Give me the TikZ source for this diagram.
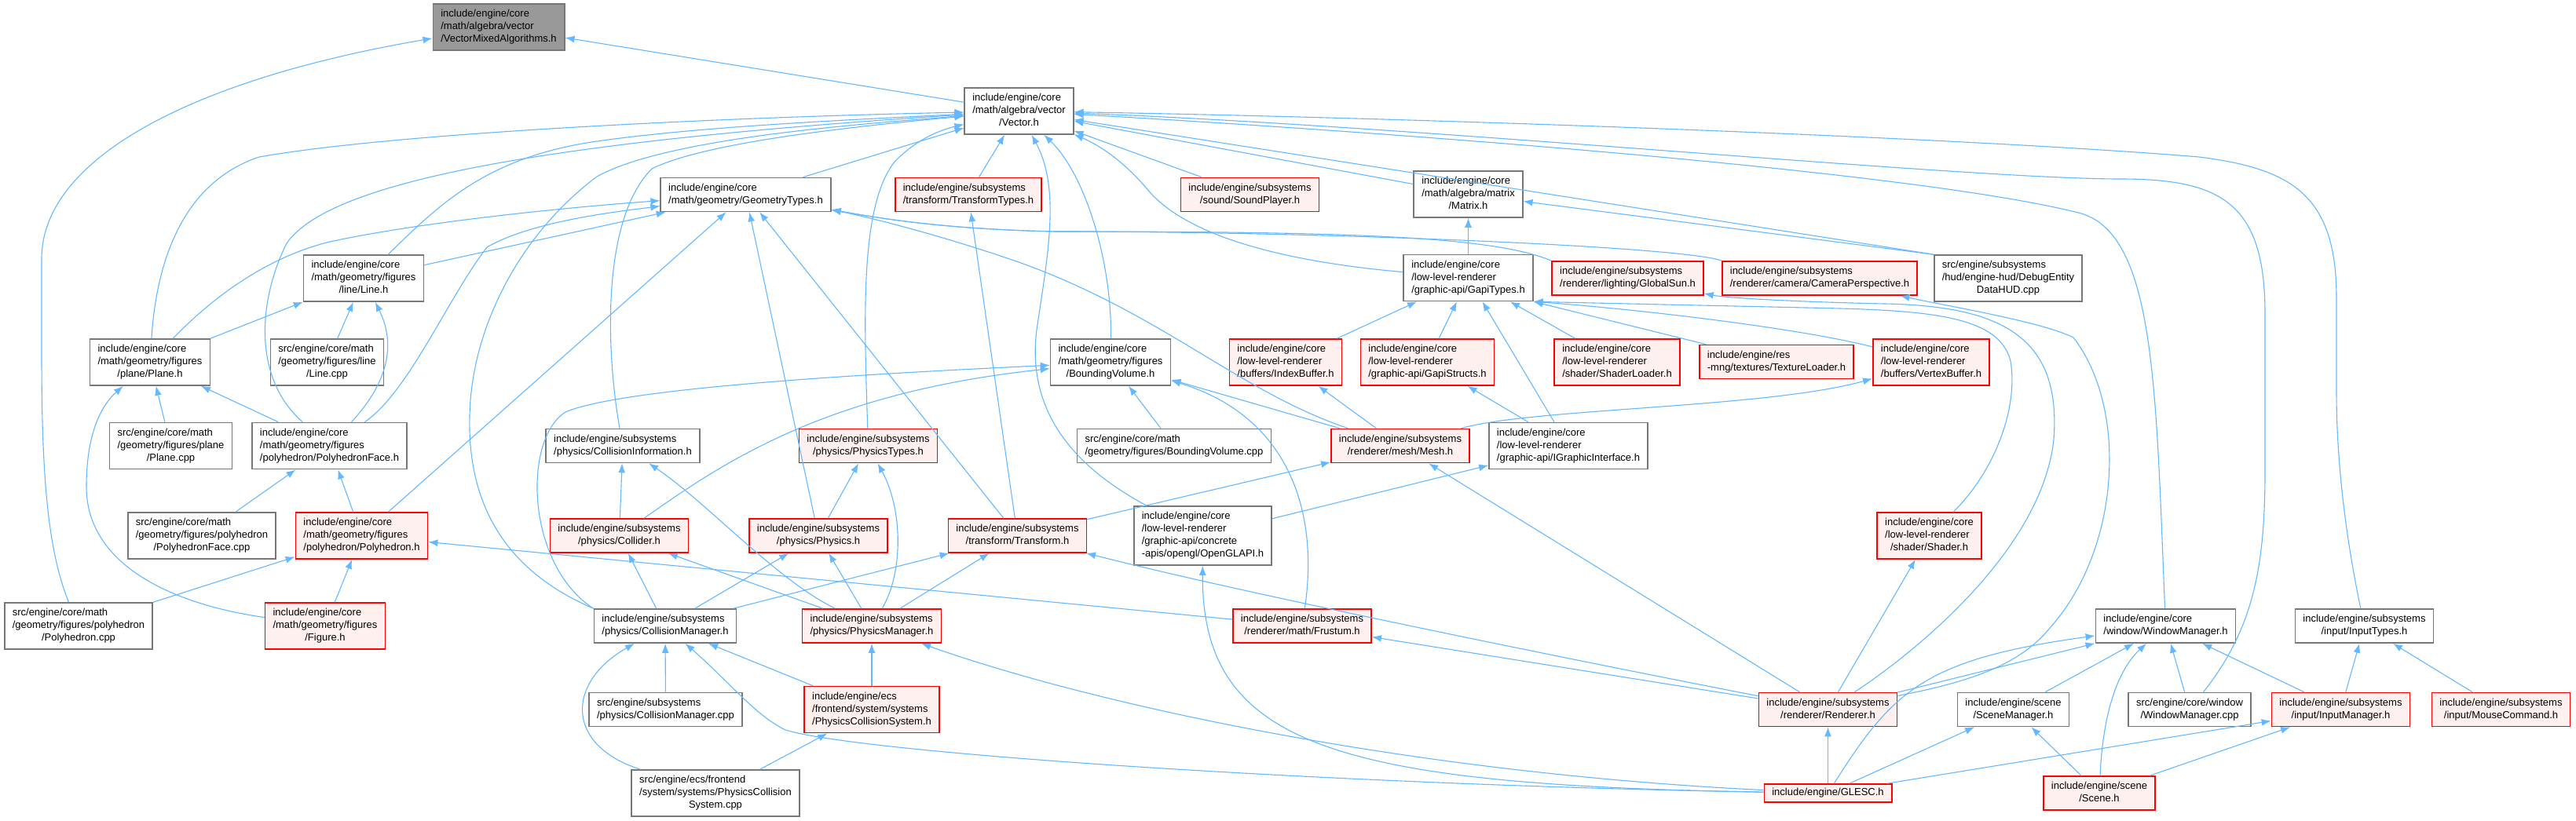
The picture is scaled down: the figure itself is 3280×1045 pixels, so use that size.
\documentclass[tikz,border=0pt]{standalone}
\usepackage{fontspec}
\usepackage{tikz}
\usetikzlibrary{arrows.meta}
\newfontfamily\docfont{Liberation Sans}
\definecolor{edgeblue}{HTML}{63B8FF}
\definecolor{boxgray}{HTML}{777777}
\definecolor{rootgray}{HTML}{999999}
\newcommand{\flab}[2]{\begin{tabular}{@{}l@{}}#1\\\multicolumn{1}{@{}c@{}}{#2}\end{tabular}}

\begin{document}
\begin{tikzpicture} [
    x=1pt, y=1pt,
    file/.style={rectangle, draw=boxgray, fill=white, line width=1.6pt, inner xsep=10pt, inner ysep=5.5pt, font=\docfont\fontsize{13}{16}\selectfont},
    trunc/.style={file, draw=red, fill=red!6},
    root/.style={file, draw=boxgray, fill=rootgray},
    incl/.style={draw=edgeblue, line width=1.1pt, -{Latex[length=12pt, width=9pt]}}
]
    \path [use as bounding box, fill=white] (0,0) rectangle (3280,-1045);

    % Nodes
    \node[root] (vector_mixed) at (635,-34.5) {\flab{include/engine/core\\/math/algebra/vector}{/VectorMixedAlgorithms.h}};
    \node[file] (vector) at (1297.5,-141.5) {\flab{include/engine/core\\/math/algebra/vector}{/Vector.h}};

    \node[file] (geometry_types) at (949.5,-248) {\flab{include/engine/core}{/math/geometry/GeometryTypes.h}};
    \node[trunc] (transform_types) at (1233,-248) {\flab{include/engine/subsystems}{/transform/TransformTypes.h}};
    \node[trunc] (sound_player) at (1591.5,-248) {\flab{include/engine/subsystems}{/sound/SoundPlayer.h}};
    \node[file] (matrix) at (1869.5,-247.5) {\flab{include/engine/core\\/math/algebra/matrix}{/Matrix.h}};

    \node[file] (line_h) at (463,-354.5) {\flab{include/engine/core\\/math/geometry/figures}{/line/Line.h}};
    \node[file] (gapi_types) at (1869.5,-354) {\flab{include/engine/core\\/low-level-renderer}{/graphic-api/GapiTypes.h}};
    \node[trunc] (global_sun) at (2072.5,-354.5) {\flab{include/engine/subsystems}{/renderer/lighting/GlobalSun.h}};
    \node[trunc] (camera) at (2317,-354.5) {\flab{include/engine/subsystems}{/renderer/camera/CameraPerspective.h}};
    \node[file] (debug_hud) at (2557,-354.5) {\flab{src/engine/subsystems\\/hud/engine-hud/DebugEntity}{DataHUD.cpp}};

    \node[file] (plane_h) at (191,-461.5) {\flab{include/engine/core\\/math/geometry/figures}{/plane/Plane.h}};
    \node[file] (line_cpp) at (416.5,-461.5) {\flab{src/engine/core/math\\/geometry/figures/line}{/Line.cpp}};
    \node[file] (bounding_volume) at (1414,-461.5) {\flab{include/engine/core\\/math/geometry/figures}{/BoundingVolume.h}};
    \node[trunc] (index_buffer) at (1637,-461.5) {\flab{include/engine/core\\/low-level-renderer}{/buffers/IndexBuffer.h}};
    \node[trunc] (gapi_structs) at (1817.5,-461.5) {\flab{include/engine/core\\/low-level-renderer}{/graphic-api/GapiStructs.h}};
    \node[trunc] (shader_loader) at (2059,-461.5) {\flab{include/engine/core\\/low-level-renderer}{/shader/ShaderLoader.h}};
    \node[trunc] (texture_loader) at (2262,-461) {\flab{include/engine/res}{-mng/textures/TextureLoader.h}};
    \node[trunc] (vertex_buffer) at (2459,-461.5) {\flab{include/engine/core\\/low-level-renderer}{/buffers/VertexBuffer.h}};

    \node[file] (plane_cpp) at (217.5,-568) {\flab{src/engine/core/math\\/geometry/figures/plane}{/Plane.cpp}};
    \node[file] (polyhedron_face) at (419.5,-568) {\flab{include/engine/core\\/math/geometry/figures}{/polyhedron/PolyhedronFace.h}};
    \node[file] (collision_info) at (793,-568) {\flab{include/engine/subsystems}{/physics/CollisionInformation.h}};
    \node[trunc] (physics_types) at (1105.5,-568) {\flab{include/engine/subsystems}{/physics/PhysicsTypes.h}};
    \node[file] (bounding_volume_cpp) at (1495,-568) {\flab{src/engine/core/math}{/geometry/figures/BoundingVolume.cpp}};
    \node[trunc] (mesh) at (1783,-568) {\flab{include/engine/subsystems}{/renderer/mesh/Mesh.h}};
    \node[file] (graphic_interface) at (1997,-568) {\flab{include/engine/core\\/low-level-renderer}{/graphic-api/IGraphicInterface.h}};

    \node[file] (polyhedron_face_cpp) at (257,-682.5) {\flab{src/engine/core/math\\/geometry/figures/polyhedron}{/PolyhedronFace.cpp}};
    \node[trunc] (polyhedron) at (460.5,-682.5) {\flab{include/engine/core\\/math/geometry/figures}{/polyhedron/Polyhedron.h}};
    \node[trunc] (collider) at (788.5,-682.5) {\flab{include/engine/subsystems}{/physics/Collider.h}};
    \node[trunc] (physics) at (1042,-682.5) {\flab{include/engine/subsystems}{/physics/Physics.h}};
    \node[trunc] (transform) at (1295.5,-682.5) {\flab{include/engine/subsystems}{/transform/Transform.h}};
    \node[file] (opengl_api) at (1531.5,-682.5) {\flab{include/engine/core\\/low-level-renderer\\/graphic-api/concrete}{-apis/opengl/OpenGLAPI.h}};
    \node[trunc] (shader) at (2456.5,-682.5) {\flab{include/engine/core\\/low-level-renderer}{/shader/Shader.h}};

    \node[file] (polyhedron_cpp) at (100,-797.5) {\flab{src/engine/core/math\\/geometry/figures/polyhedron}{/Polyhedron.cpp}};
    \node[trunc] (figure) at (414,-797.5) {\flab{include/engine/core\\/math/geometry/figures}{/Figure.h}};
    \node[file] (collision_manager) at (847,-797.5) {\flab{include/engine/subsystems}{/physics/CollisionManager.h}};
    \node[trunc] (physics_manager) at (1110,-797.5) {\flab{include/engine/subsystems}{/physics/PhysicsManager.h}};
    \node[trunc] (frustum) at (1658,-797.5) {\flab{include/engine/subsystems}{/renderer/math/Frustum.h}};
    \node[file] (window_manager) at (2757.5,-797.5) {\flab{include/engine/core}{/window/WindowManager.h}};
    \node[file] (input_types) at (3010.5,-797.5) {\flab{include/engine/subsystems}{/input/InputTypes.h}};

    \node[file] (collision_manager_cpp) at (847.5,-904) {\flab{src/engine/subsystems}{/physics/CollisionManager.cpp}};
    \node[trunc] (physics_collision_system) at (1110,-904) {\flab{include/engine/ecs\\/frontend/system/systems}{/PhysicsCollisionSystem.h}};
    \node[trunc] (renderer) at (2327.5,-904) {\flab{include/engine/subsystems}{/renderer/Renderer.h}};
    \node[file] (scene_manager) at (2563.5,-904) {\flab{include/engine/scene}{/SceneManager.h}};
    \node[file] (window_manager_cpp) at (2788,-904) {\flab{src/engine/core/window}{/WindowManager.cpp}};
    \node[trunc] (input_manager) at (2980.5,-904) {\flab{include/engine/subsystems}{/input/InputManager.h}};
    \node[trunc] (mouse_command) at (3184.5,-904) {\flab{include/engine/subsystems}{/input/MouseCommand.h}};

    \node[file] (physics_collision_cpp) at (911,-1010.5) {\flab{src/engine/ecs/frontend\\/system/systems/PhysicsCollision}{System.cpp}};
    \node[trunc] (glesc) at (2327.5,-1010.5) {include/engine/GLESC.h};
    \node[trunc] (scene) at (2673,-1010.5) {\flab{include/engine/scene}{/Scene.h}};

    % Include edges
    \path [incl] (vector) -- (vector_mixed);
    \path [incl] (polyhedron_cpp) .. controls (60,-700) and (53,-600) .. (53,-450) -- (53,-330) .. controls (53,-200) and (250,-100) .. (vector_mixed);

    \path [incl] (geometry_types) -- (vector);
    \path [incl] (transform_types) -- (vector);
    \path [incl] (sound_player) -- (vector);
    \path [incl] (matrix) -- (vector);
    \path [incl] (debug_hud.north west) -- (vector);
    \path [incl] (gapi_types) .. controls (1600,-330) and (1500,-290) .. (1460,-240) .. controls (1430,-205) and (1400,-185) .. (vector);
    \path [incl] (line_h) .. controls (560,-260) and (620,-200) .. (760,-180) .. controls (900,-160) and (1100,-152) .. (vector);
    \path [incl] (plane_h) .. controls (200,-320) and (240,-230) .. (330,-200) .. controls (500,-170) and (900,-150) .. (vector);
    \path [incl] (polyhedron_face) .. controls (320,-480) and (330,-380) .. (365,-310) .. controls (420,-230) and (700,-180) .. (vector);
    \path [incl] (collision_info) .. controls (772,-450) and (765,-280) .. (830,-215) .. controls (900,-180) and (1100,-160) .. (vector);
    \path [incl] (physics_types) .. controls (1100,-400) and (1095,-260) .. (1140,-205) .. controls (1170,-175) and (1200,-165) .. (vector);
    \path [incl] (bounding_volume) .. controls (1416,-330) and (1380,-220) .. (vector);
    \path [incl] (opengl_api) .. controls (1340,-580) and (1310,-500) .. (1320,-420) .. controls (1335,-320) and (1350,-240) .. (vector);
    \path [incl] (collision_manager.north west) .. controls (650,-730) and (595,-650) .. (598,-530) .. controls (600,-420) and (660,-300) .. (760,-225) .. controls (850,-175) and (1100,-158) .. (vector);
    \path [incl] (window_manager) .. controls (2745,-500) and (2745,-300) .. (2650,-272) .. controls (2450,-220) and (1800,-170) .. (vector);
    \path [incl] (window_manager_cpp) .. controls (2870,-800) and (2884,-720) .. (2884,-600) -- (2884,-400) .. controls (2884,-260) and (2830,-228) .. (2700,-228) .. controls (2500,-228) and (1800,-160) .. (vector);
    \path [incl] (input_types) .. controls (2990,-700) and (2975,-600) .. (2975,-500) -- (2975,-380) .. controls (2975,-250) and (2920,-215) .. (2800,-200) .. controls (2500,-175) and (1800,-150) .. (vector);

    \path [incl] (gapi_types) -- (matrix);
    \path [incl] (debug_hud.north west) -- (matrix);

    \path [incl] (line_h) -- (geometry_types);
    \path [incl] (plane_h) .. controls (260,-390) and (330,-330) .. (420,-308) .. controls (550,-280) and (750,-262) .. (geometry_types);
    \path [incl] (polyhedron_face) .. controls (520,-500) and (570,-380) .. (620,-315) .. controls (680,-280) and (800,-268) .. (geometry_types);
    \path [incl] (polyhedron) -- (geometry_types);
    \path [incl] (physics) -- (geometry_types);
    \path [incl] (transform) -- (geometry_types);
    \path [incl] (mesh) .. controls (1580,-500) and (1480,-400) .. (1300,-335) .. controls (1200,-300) and (1100,-275) .. (geometry_types);
    \path [incl] (global_sun.north west) .. controls (1900,-300) and (1700,-295) .. (1345,-295) .. controls (1200,-292) and (1120,-278) .. (geometry_types);
    \path [incl] (camera.north west) .. controls (2150,-315) and (1700,-295) .. (1345,-295) .. controls (1200,-292) and (1120,-278) .. (geometry_types);

    \path [incl] (transform) -- (transform_types);

    \path [incl] (plane_h) -- (line_h);
    \path [incl] (line_cpp) -- (line_h);
    \path [incl] (polyhedron_face) .. controls (510,-470) and (495,-420) .. (line_h);

    \path [incl] (plane_cpp) -- (plane_h);
    \path [incl] (polyhedron_face) -- (plane_h);
    \path [incl] (figure) .. controls (220,-770) and (110,-720) .. (110,-620) .. controls (110,-560) and (125,-520) .. (plane_h);

    \path [incl] (polyhedron_face_cpp) -- (polyhedron_face);
    \path [incl] (polyhedron) -- (polyhedron_face);

    \path [incl] (polyhedron_cpp) -- (polyhedron);
    \path [incl] (figure) -- (polyhedron);
    \path [incl] (frustum) -- (polyhedron);

    \path [incl] (collider) -- (collision_info);
    \path [incl] (physics_manager) .. controls (990,-740) and (900,-640) .. (collision_info);

    \path [incl] (physics) -- (physics_types);
    \path [incl] (physics_manager) .. controls (1150,-730) and (1150,-650) .. (physics_types);

    \path [incl] (collision_manager) -- (collider);
    \path [incl] (physics_manager) -- (collider);
    \path [incl] (collision_manager) -- (physics);
    \path [incl] (physics_manager) -- (physics);

    \path [incl] (collision_manager) -- (transform);
    \path [incl] (physics_manager) -- (transform);
    \path [incl] (renderer) .. controls (2050,-850) and (1600,-760) .. (transform);

    \path [incl] (bounding_volume_cpp) -- (bounding_volume);
    \path [incl] (mesh) -- (bounding_volume);
    \path [incl] (frustum) .. controls (1680,-650) and (1640,-530) .. (bounding_volume);
    \path [incl] (collider) .. controls (920,-590) and (1050,-500) .. (bounding_volume);
    \path [incl] (collision_manager.north west) .. controls (670,-720) and (665,-560) .. (720,-525) .. controls (800,-490) and (1200,-472) .. (bounding_volume);

    \path [incl] (index_buffer) -- (gapi_types);
    \path [incl] (gapi_structs) -- (gapi_types);
    \path [incl] (graphic_interface) -- (gapi_types);
    \path [incl] (shader_loader) -- (gapi_types);
    \path [incl] (texture_loader) -- (gapi_types.south east);
    \path [incl] (vertex_buffer) .. controls (2300,-420) and (2100,-395) .. (gapi_types.south east);
    \path [incl] (shader) .. controls (2540,-600) and (2570,-520) .. (2560,-460) .. controls (2545,-400) and (2450,-395) .. (2300,-392) -- (gapi_types.south east);

    \path [incl] (graphic_interface) -- (gapi_structs);
    \path [incl] (mesh) -- (index_buffer);
    \path [incl] (mesh) .. controls (1950,-520) and (2250,-520) .. (vertex_buffer);
    \path [incl] (transform) -- (mesh);
    \path [incl] (renderer) -- (mesh);
    \path [incl] (opengl_api) -- (graphic_interface);
    \path [incl] (glesc) .. controls (1700,-1000) and (1530,-950) .. (opengl_api);

    \path [incl] (collision_manager_cpp) -- (collision_manager);
    \path [incl] (physics_collision_system) -- (collision_manager);
    \path [incl] (physics_collision_cpp) .. controls (720,-950) and (720,-870) .. (collision_manager);
    \path [incl] (glesc) .. controls (1700,-1000) and (1100,-960) .. (1000,-930) .. controls (960,-910) and (930,-870) .. (collision_manager);
    \path [incl] (physics_collision_system) -- (physics_manager);
    \path [incl] (glesc) .. controls (1800,-985) and (1400,-900) .. (physics_manager);
    \path [incl] (physics_collision_cpp) -- (physics_collision_system);

    \path [incl] (renderer) -- (frustum);
    \path [incl] (renderer) -- (shader);
    \path [incl] (renderer) .. controls (2440,-830) and (2600,-700) .. (2615,-560) .. controls (2625,-430) and (2550,-390) .. (2400,-387) .. controls (2300,-385) and (2200,-380) .. (global_sun);
    \path [incl] (renderer) .. controls (2500,-870) and (2570,-850) .. (2610,-800) .. controls (2700,-700) and (2710,-520) .. (2640,-430) .. controls (2600,-410) and (2480,-390) .. (camera);
    \path [incl] (renderer) -- (window_manager);

    \path [incl] (glesc) -- (renderer);
    \path [incl] (glesc) .. controls (2410,-880) and (2450,-840) .. (window_manager);
    \path [incl] (glesc) -- (scene_manager);
    \path [incl] (glesc) -- (input_manager);

    \path [incl] (scene_manager) -- (window_manager);
    \path [incl] (scene) -- (scene_manager);
    \path [incl] (scene) .. controls (2678,-900) and (2700,-850) .. (window_manager);
    \path [incl] (scene) -- (input_manager);
    \path [incl] (window_manager_cpp) -- (window_manager);
    \path [incl] (input_manager) -- (window_manager);
    \path [incl] (input_manager) -- (input_types);
    \path [incl] (mouse_command) -- (input_types);

\end{tikzpicture}
\end{document}
